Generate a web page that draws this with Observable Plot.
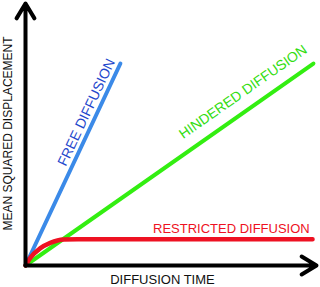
<!DOCTYPE html>
<html><head><meta charset="utf-8">
<script src="https://cdn.jsdelivr.net/npm/d3@7"></script>
<script src="https://cdn.jsdelivr.net/npm/@observablehq/plot@0.6"></script>
<style>body{margin:0;background:#fff}</style>
</head><body><div id="chart"></div>
<script>
// series (x: diffusion time, y: mean squared displacement, arbitrary units)
const free = [{x:0,y:0},{x:3.25,y:7.68}];
const hindered = [{x:0,y:0},{x:9.86,y:7.68}];
const restricted = [{x:0,y:0},{x:0.17,y:0.3},{x:0.5,y:0.65},{x:0.85,y:0.86},{x:1.3,y:0.99},{x:1.8,y:1.0},{x:9.83,y:1.0}];
const lineLabels = [
  {x:2.09,y:5.82,text:"FREE DIFFUSION",rotate:-64.8,color:"#1f48cc",size:14},
  {x:7.45,y:6.6,text:"HINDERED DIFFUSION",rotate:-35,color:"#33dd11",size:14},
  {x:7.05,y:1.41,text:"RESTRICTED DIFFUSION",rotate:0,color:"#ee1122",size:13}
];
const axisTitles = [
  {x:-0.58,y:5.02,text:"MEAN SQUARED DISPLACEMENT",rotate:-90,size:12},
  {x:4.69,y:-0.55,text:"DIFFUSION TIME",rotate:0,size:13}
];
const axes = [{x1:0,y1:0,x2:10,y2:0},{x1:0,y1:0,x2:0,y2:10}];

const chart = Plot.plot({
  width:320, height:287,
  marginLeft:25, marginRight:3, marginTop:2, marginBottom:22,
  x:{domain:[0,10], axis:null},
  y:{domain:[0,10], axis:null},
  style:{fontFamily:"Liberation Sans, Arial, sans-serif", background:"#fff"},
  marks:[
    Plot.line(hindered,{x:"x",y:"y",stroke:"#33ee11",strokeWidth:4}),
    Plot.line(free,{x:"x",y:"y",stroke:"#3b8ae8",strokeWidth:4}),
    Plot.line(restricted,{x:"x",y:"y",stroke:"#ee1122",strokeWidth:4.5,curve:"monotone-x"}),
    Plot.arrow(axes,{x1:"x1",y1:"y1",x2:"x2",y2:"y2",stroke:"#000",strokeWidth:4,headLength:6.5,headAngle:62,insetEnd:1}),
    Plot.text(lineLabels,{x:"x",y:"y",text:"text",rotate:"rotate",fill:"color",fontSize:"size"}),
    Plot.text(axisTitles,{x:"x",y:"y",text:"text",rotate:"rotate",fill:"#111",fontSize:"size"})
  ]
});
document.getElementById("chart").append(chart);
</script></body></html>
